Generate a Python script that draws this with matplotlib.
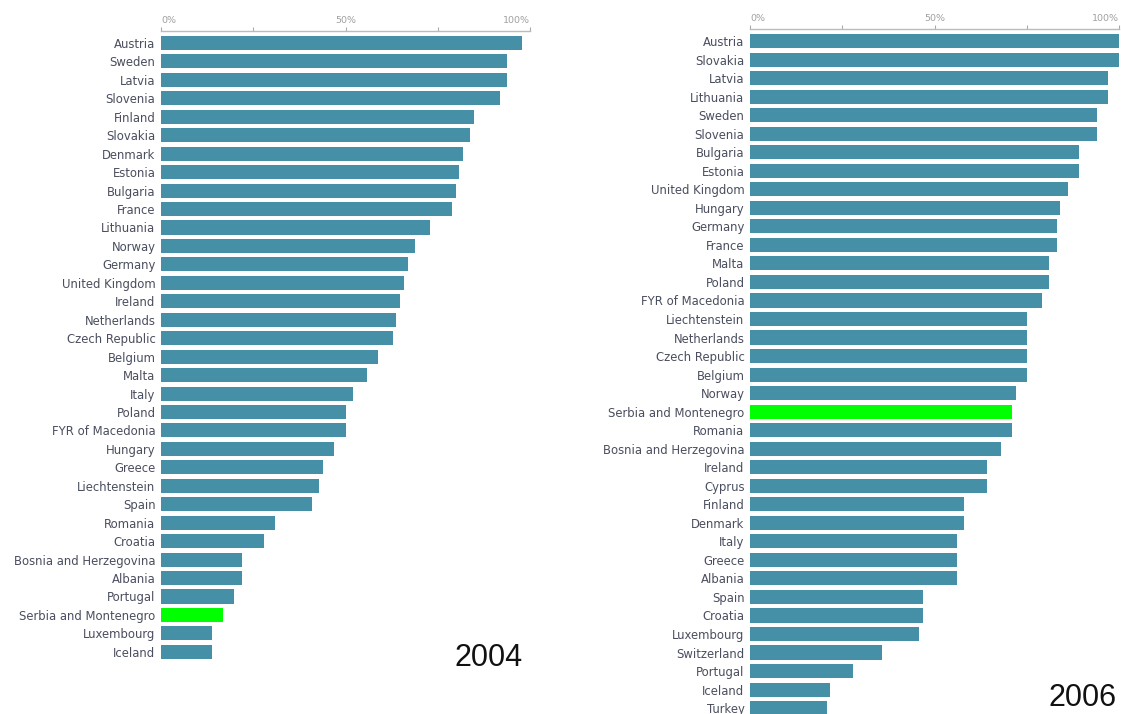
import matplotlib.pyplot as plt
import numpy as np

# dados (percentual)
paises_2004 = ['Austria', 'Sweden', 'Latvia', 'Slovenia', 'Finland', 'Slovakia', 'Denmark',
               'Estonia', 'Bulgaria', 'France', 'Lithuania', 'Norway', 'Germany',
               'United Kingdom', 'Ireland', 'Netherlands', 'Czech Republic', 'Belgium',
               'Malta', 'Italy', 'Poland', 'FYR of Macedonia', 'Hungary', 'Greece',
               'Liechtenstein', 'Spain', 'Romania', 'Croatia', 'Bosnia and Herzegovina',
               'Albania', 'Portugal', 'Serbia and Montenegro', 'Luxembourg', 'Iceland']
valores_2004 = [97.9, 93.9, 93.9, 92.0, 84.8, 83.8, 81.8, 80.8, 79.9, 78.8, 72.9, 68.9,
                66.9, 65.9, 64.9, 63.8, 62.8, 58.8, 55.9, 51.9, 50.0, 50.0, 46.9, 43.9,
                42.9, 40.9, 30.9, 27.9, 21.9, 21.9, 19.8, 16.8, 13.8, 13.8]

paises_2006 = ['Austria', 'Slovakia', 'Latvia', 'Lithuania', 'Sweden', 'Slovenia', 'Bulgaria',
               'Estonia', 'United Kingdom', 'Hungary', 'Germany', 'France', 'Malta', 'Poland',
               'FYR of Macedonia', 'Liechtenstein', 'Netherlands', 'Czech Republic', 'Belgium',
               'Norway', 'Serbia and Montenegro', 'Romania', 'Bosnia and Herzegovina',
               'Ireland', 'Cyprus', 'Finland', 'Denmark', 'Italy', 'Greece', 'Albania',
               'Spain', 'Croatia', 'Luxembourg', 'Switzerland', 'Portugal', 'Iceland', 'Turkey']
valores_2006 = [100.0, 100.0, 97.1, 97.1, 94.1, 94.1, 89.1, 89.1, 86.1, 84.1, 83.2, 83.2,
                81.1, 81.1, 79.1, 75.2, 75.2, 75.2, 75.2, 72.1, 71.1, 71.1, 68.1, 64.1,
                64.1, 58.0, 58.0, 56.0, 56.0, 56.0, 47.0, 47.0, 45.9, 35.9, 27.8, 21.8, 20.9]

destaque = 'Serbia and Montenegro'
ticks = [0, 25, 50, 75, 100]
tick_labels = ['0%', '', '50%', '', '100%']

W, H = 1121, 714
COR_BARRA = '#4590a7'
COR_DESTAQUE = '#00ff00'


def painel(fig, rect, paises, valores, y_bottom):
    ax = fig.add_axes(rect)
    cores = [COR_DESTAQUE if p == destaque else COR_BARRA for p in paises]
    pos = np.arange(len(paises))
    ax.barh(pos, valores, height=0.76, color=cores, edgecolor='none')
    ax.set_xlim(0, 100)
    ax.set_ylim(y_bottom, -0.65)
    ax.set_yticks(pos)
    ax.set_yticklabels(paises, fontsize=8.4, color='#4a4e5e')
    ax.tick_params(axis='y', length=0, pad=4)
    ax.xaxis.tick_top()
    ax.set_xticks(ticks)
    ax.set_xticklabels(tick_labels, fontsize=6.8, color='#a0a0a0')
    ax.tick_params(axis='x', length=3, width=0.8, color='#aaaaaa', pad=1)
    # 0% alinhado à esquerda, 100% à direita, como no original
    rotulos = ax.get_xticklabels()
    rotulos[0].set_ha('left')
    rotulos[-1].set_ha('right')
    for s in ['left', 'right', 'bottom']:
        ax.spines[s].set_visible(False)
    ax.spines['top'].set_color('#bbbbbb')
    ax.spines['top'].set_linewidth(1.0)
    ax.set_facecolor('none')
    return ax


fig = plt.figure(figsize=(W / 100, H / 100), dpi=100)

# painel 2004: x de 161 a 530 px, topo em 31 px, linha 18.45 px
topo1, base1 = 31, 31 + (33.5 + 0.65) * 18.45
painel(fig, [161 / W, 1 - base1 / H, 369 / W, (base1 - topo1) / H],
       paises_2004, valores_2004, 33.5)

# painel 2006: x de 750 a 1119 px, topo em 29 px
topo2, base2 = 29, 29 + (36.5 + 0.65) * 18.53
painel(fig, [750 / W, 1 - base2 / H, 369 / W, (base2 - topo2) / H],
       paises_2006, valores_2006, 36.5)

fig.text(523 / W, 1 - 666 / H, '2004', ha='right', va='baseline',
         fontsize=22, family='Liberation Sans', color='#111111')
fig.text(1117 / W, 1 - 713 / H, '2006', ha='right', va='bottom',
         fontsize=22, family='Liberation Sans', color='#111111')

fig.savefig('out.png', dpi=100)
